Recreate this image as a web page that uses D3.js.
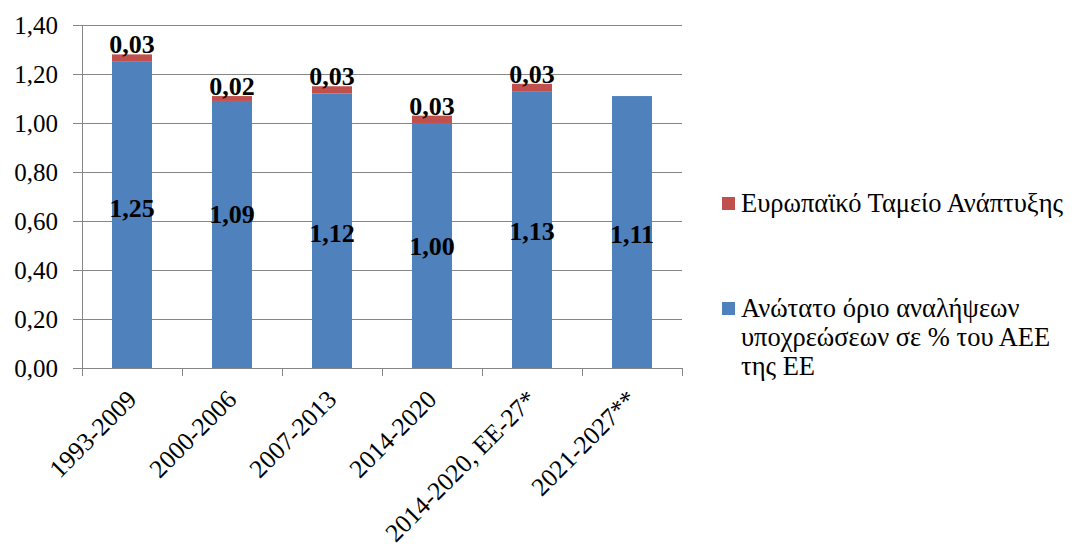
<!DOCTYPE html>
<html>
<head>
<meta charset="utf-8">
<script src="https://cdn.jsdelivr.net/npm/d3@7"></script>
</head>
<body style="margin:0;background:#fff">
<svg id="chart" width="1076" height="548"></svg>
<script>
// Periods of the EU multiannual financial framework
const categories = ["1993-2009", "2000-2006", "2007-2013", "2014-2020", "2014-2020, ΕΕ-27*", "2021-2027**"];
// Commitment ceiling as % of EU GNI
const ceilingValues = [1.25, 1.09, 1.12, 1.00, 1.13, 1.11];
// European Development Fund on top of the ceiling (none for 2021-2027)
const edfValues = [0.03, 0.02, 0.03, 0.03, 0.03, 0];
const yTicks = [0, 0.2, 0.4, 0.6, 0.8, 1.0, 1.2, 1.4];
const legendLines = [["Ευρωπαϊκό Ταμείο Ανάπτυξης"], ["Ανώτατο όριο αναλήψεων", "υποχρεώσεων σε % του ΑΕΕ", "της ΕΕ"]];

// Vertical nudges (px) for the in-bar labels
const labelNudge = [-7, -21, 2, 0, 1, 2];

const FONT = '"Liberation Serif"';
const colors = { ceiling: "#4F81BD", edf: "#C0504D" };
const fmt = v => v.toFixed(2).replace(".", ",");

const svg = d3.select("#chart");
const plot = { left: 82, right: 682, top: 25, bottom: 368 };

const x = d3.scaleBand().domain(categories).range([plot.left, plot.right])
  .paddingInner(0.6).paddingOuter(0.3);
const y = d3.scaleLinear().domain([0, 1.4]).range([plot.bottom, plot.top]);

// Horizontal gridlines, extended left as tick marks
svg.append("g").selectAll("line").data(yTicks).join("line")
  .attr("x1", plot.left - 9).attr("x2", plot.right)
  .attr("y1", d => Math.round(y(d)) + 0.5).attr("y2", d => Math.round(y(d)) + 0.5)
  .attr("stroke", "#868686").attr("stroke-width", 1);

// Y-axis tick labels
svg.append("g").selectAll("text").data(yTicks).join("text")
  .attr("x", 58).attr("y", d => y(d)).attr("dy", "0.35em")
  .attr("text-anchor", "end").attr("font-size", 25).attr("fill", "#000")
  .style("font-family", FONT)
  .text(fmt);

// Vertical axis line
svg.append("line")
  .attr("x1", plot.left + 0.5).attr("x2", plot.left + 0.5)
  .attr("y1", plot.top).attr("y2", plot.bottom + 0.5)
  .attr("stroke", "#868686");

// Stacked bars
const rows = categories.map((c, i) => ({ cat: c, ceiling: ceilingValues[i], edf: edfValues[i] }));
const layers = d3.stack().keys(["ceiling", "edf"])(rows);

svg.append("g").selectAll("g").data(layers).join("g")
  .attr("fill", d => colors[d.key])
  .selectAll("rect").data(d => d.filter(p => p[1] > p[0])).join("rect")
  .attr("x", d => x(d.data.cat))
  .attr("width", x.bandwidth())
  .attr("y", d => y(d[1]))
  .attr("height", d => y(d[0]) - y(d[1]));

// Value labels: ceiling inside the blue segment, EDF above the bar
svg.append("g").selectAll("text").data(layers[0]).join("text")
  .attr("x", d => x(d.data.cat) + x.bandwidth() / 2)
  .attr("y", (d, i) => y((d[0] + d[1]) / 2) + labelNudge[i]).attr("dy", "0.35em")
  .attr("text-anchor", "middle").attr("font-size", 26).attr("font-weight", "bold")
  .style("font-family", FONT)
  .text(d => fmt(d.data.ceiling));

svg.append("g").selectAll("text").data(layers[1].filter(d => d[1] > d[0])).join("text")
  .attr("x", d => x(d.data.cat) + x.bandwidth() / 2)
  .attr("y", d => y(d[1]) - 1)
  .attr("text-anchor", "middle").attr("font-size", 26).attr("font-weight", "bold")
  .style("font-family", FONT)
  .text(d => fmt(d.data.edf));

// X axis line with tick marks between categories
svg.append("line")
  .attr("x1", plot.left).attr("x2", plot.right)
  .attr("y1", plot.bottom + 0.5).attr("y2", plot.bottom + 0.5)
  .attr("stroke", "#868686");
const step = x.step();
svg.append("g").selectAll("line").data(d3.range(categories.length + 1)).join("line")
  .attr("x1", i => plot.left + i * step + 0.5).attr("x2", i => plot.left + i * step + 0.5)
  .attr("y1", plot.bottom).attr("y2", plot.bottom + 8)
  .attr("stroke", "#868686");

// Rotated category labels
svg.append("g").selectAll("text").data(categories).join("text")
  .attr("transform", d => `translate(${x(d) + x.bandwidth() / 2 + 6},${plot.bottom + 33}) rotate(-45)`)
  .attr("text-anchor", "end").attr("font-size", 25.5).attr("fill", "#000")
  .style("font-family", FONT)
  .text(d => d);

// Legend
const legend = svg.append("g");
const legendY = [212, 317];
const legendColors = [colors.edf, colors.ceiling];
legendLines.forEach((lines, i) => {
  legend.append("rect")
    .attr("x", 722).attr("y", legendY[i] - 15).attr("width", 13).attr("height", 13)
    .attr("fill", legendColors[i]);
  const t = legend.append("text").attr("font-size", 26.5).attr("fill", "#000")
    .style("font-family", FONT);
  lines.forEach((line, j) => {
    t.append("tspan").attr("x", 741).attr("y", legendY[i] + j * 29).text(line);
  });
});
</script>
</body>
</html>
